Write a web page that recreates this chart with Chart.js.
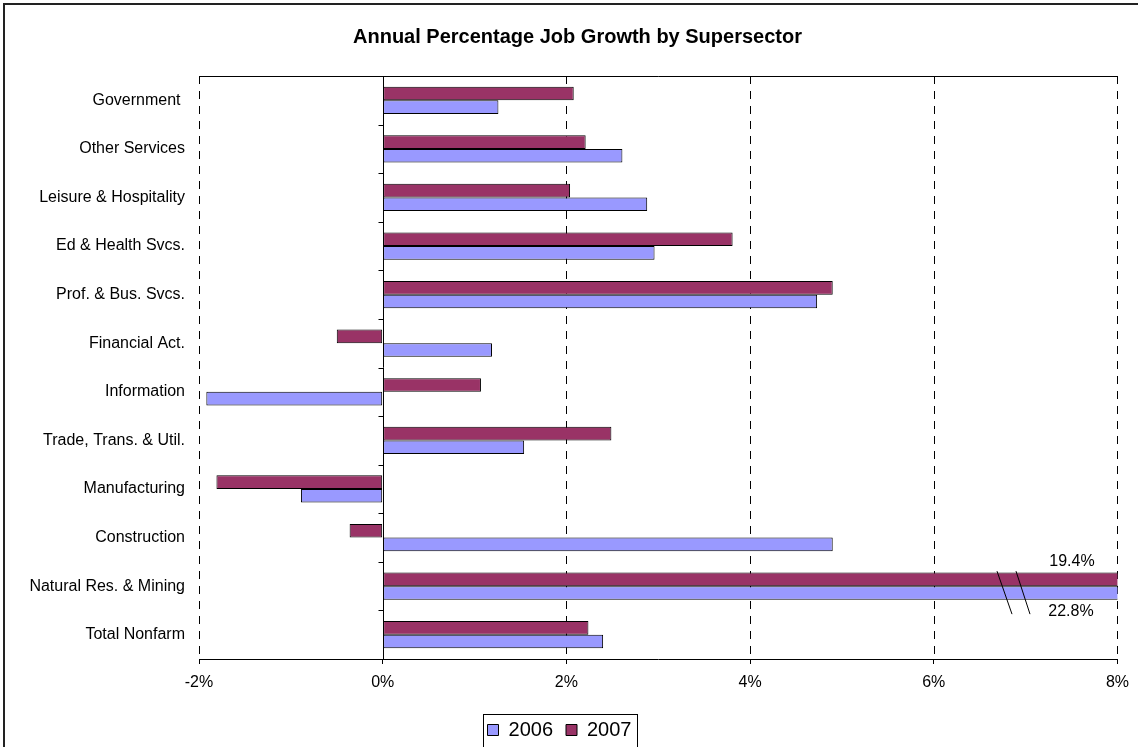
<!DOCTYPE html>
<html>
<head>
<meta charset="utf-8">
<script src="https://cdn.jsdelivr.net/npm/chart.js@4"></script>
<style>
  html, body { margin: 0; padding: 0; background: #fff; }
  #wrap { width: 1138px; height: 747px; position: relative; }
</style>
</head>
<body>
<div id="wrap"><canvas id="jobChart"></canvas></div>
<script>
// categories, top to bottom as in the picture
const sectors = [
  "Government ", "Other Services", "Leisure & Hospitality", "Ed & Health Svcs.",
  "Prof. & Bus. Svcs.", "Financial Act.", "Information", "Trade, Trans. & Util.",
  "Manufacturing", "Construction", "Natural Res. & Mining", "Total Nonfarm"
];
// percent growth
const growth2006 = [1.26, 2.61, 2.88, 2.96, 4.73, 1.19, -1.92, 1.54, -0.89, 4.90, 22.8, 2.40];
const growth2007 = [2.08, 2.21, 2.04, 3.81, 4.90, -0.50, 1.07, 2.49, -1.81, -0.36, 19.4, 2.24];
const xTicks = [-2, 0, 2, 4, 6, 8];

const FONT = "'Liberation Sans', Arial, sans-serif";
const PLOT_LEFT = 199;

// dashed grid, solid zero axis, top border, break marks, outer frame, legend box
const decorations = {
  id: "decorations",
  afterLayout(chart) {
    // title sits a little right of the canvas centre in the original
    chart.titleBlock.left += 18;
    chart.titleBlock.right += 18;
  },
  beforeDatasetsDraw(chart) {
    const ctx = chart.ctx;
    const area = chart.chartArea;
    const x = chart.scales.x;
    ctx.save();
    ctx.strokeStyle = "#000";
    ctx.lineWidth = 1;
    ctx.setLineDash([8, 7]);
    xTicks.forEach(v => {
      if (v === 0) return;
      const px = Math.round(x.getPixelForValue(v)) + 0.5;
      ctx.beginPath();
      ctx.moveTo(px, area.top);
      ctx.lineTo(px, area.bottom);
      ctx.stroke();
    });
    ctx.setLineDash([]);
    ctx.beginPath();
    ctx.moveTo(area.left, Math.round(area.top) + 0.5);
    ctx.lineTo(area.right, Math.round(area.top) + 0.5);
    ctx.stroke();
    ctx.restore();
  },
  afterDatasetsDraw(chart) {
    const ctx = chart.ctx;
    const area = chart.chartArea;
    const x = chart.scales.x;
    const y = chart.scales.y;
    ctx.save();
    ctx.strokeStyle = "#000";
    ctx.lineWidth = 1;
    // zero axis with category ticks
    const zx = Math.round(x.getPixelForValue(0)) + 0.5;
    ctx.beginPath();
    ctx.moveTo(zx, area.top);
    ctx.lineTo(zx, area.bottom);
    const step = (area.bottom - area.top) / sectors.length;
    for (let i = 0; i <= sectors.length; i++) {
      const ty = Math.round(area.top + i * step) + 0.5;
      ctx.moveTo(zx - 5, ty);
      ctx.lineTo(zx, ty);
    }
    ctx.stroke();

    // break marks and true values on the clipped bars
    const idx = sectors.indexOf("Natural Res. & Mining");
    const cy = y.getPixelForValue(idx);
    ctx.beginPath();
    ctx.moveTo(997, cy - 15);
    ctx.lineTo(1012, cy + 28);
    ctx.moveTo(1016, cy - 15);
    ctx.lineTo(1030, cy + 28);
    ctx.stroke();
    ctx.fillStyle = "#000";
    ctx.font = "16px " + FONT;
    ctx.textAlign = "center";
    ctx.textBaseline = "middle";
    ctx.fillText(growth2007[idx].toFixed(1) + "%", 1072, cy - 25);
    ctx.fillText(growth2006[idx].toFixed(1) + "%", 1071, cy + 25);

    // outer frame
    ctx.strokeStyle = "#222";
    ctx.lineWidth = 2;
    ctx.beginPath();
    ctx.moveTo(4, 747);
    ctx.lineTo(4, 4);
    ctx.lineTo(1138, 4);
    ctx.stroke();

    // legend frame
    const lg = chart.legend;
    if (lg && lg.legendHitBoxes && lg.legendHitBoxes.length) {
      const boxes = lg.legendHitBoxes;
      const last = boxes[boxes.length - 1];
      const l = boxes[0].left - 5;
      const r = last.left + last.width + 5;
      ctx.lineWidth = 1;
      ctx.strokeStyle = "#000";
      ctx.strokeRect(Math.round(l) + 0.5, 714.5, Math.round(r - l), 40);
    }
    ctx.restore();
  }
};

new Chart(document.getElementById("jobChart"), {
  type: "bar",
  data: {
    labels: sectors,
    datasets: [
      {
        label: "2007",
        data: growth2007,
        backgroundColor: "#993366",
        borderColor: "#000",
        borderWidth: 1,
        borderSkipped: false
      },
      {
        label: "2006",
        data: growth2006,
        backgroundColor: "#9999FF",
        borderColor: "#000",
        borderWidth: 1,
        borderSkipped: false
      }
    ]
  },
  options: {
    indexAxis: "y",
    responsive: true,
    maintainAspectRatio: false,
    animation: false,
    datasets: { bar: { categoryPercentage: 0.56, barPercentage: 1 } },
    layout: { padding: { left: 0, right: 19, top: 0, bottom: -3 } },
    scales: {
      x: {
        min: -2,
        max: 8,
        afterBuildTicks: s => { s.ticks = xTicks.map(v => ({ value: v })); },
        afterFit: s => { s.height = 48; },
        grid: { drawOnChartArea: false, drawTicks: true, tickLength: 5, color: "#000" },
        border: { display: true, color: "#000" },
        ticks: {
          color: "#000",
          font: { family: FONT, size: 16 },
          padding: 9,
          maxRotation: 0,
          callback: v => v + "%"
        }
      },
      y: {
        afterFit: s => { s.width = PLOT_LEFT; },
        grid: { display: false },
        border: { display: false },
        ticks: {
          color: "#000",
          font: { family: FONT, size: 16 },
          padding: 6,
          autoSkip: false
        }
      }
    },
    plugins: {
      title: {
        display: true,
        text: "Annual Percentage Job Growth by Supersector",
        color: "#000",
        font: { family: FONT, size: 20, weight: "bold" },
        padding: { top: 25, bottom: 27 }
      },
      legend: {
        position: "bottom",
        reverse: true,
        labels: {
          color: "#000",
          font: { family: FONT, size: 20 },
          boxWidth: 11,
          boxHeight: 11,
          padding: 13,
          generateLabels: chart => chart.data.datasets.map((d, i) => ({
            text: d.label,
            fillStyle: d.backgroundColor,
            strokeStyle: "#000",
            lineWidth: 1,
            datasetIndex: i
          }))
        }
      },
      tooltip: { enabled: false }
    }
  },
  plugins: [decorations]
});
</script>
</body>
</html>
